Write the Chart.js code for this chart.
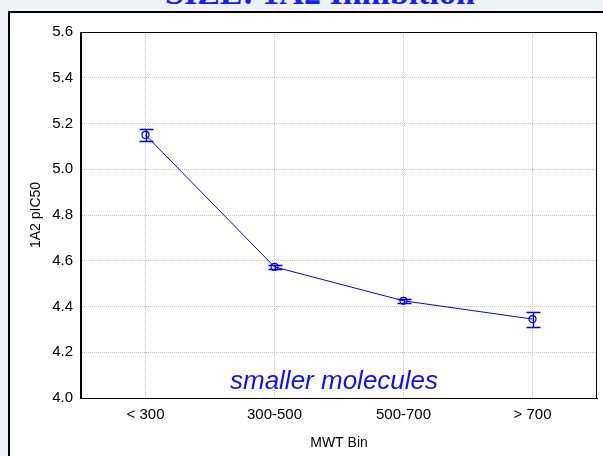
<html><head><meta charset="UTF-8">
<title>Size: 1A2 Inhibition</title>
<style>
* { margin: 0; padding: 0; box-sizing: border-box; }
body { width: 603px; height: 456px; background: #eef2f7; overflow: hidden; position: relative; font-family: 'Liberation Sans', Arial, sans-serif; }
.title { position: absolute; top: -26px; left: 0; width: 640px; text-align: center; color: #1a1aff; font: bold 34px/37px 'Liberation Serif', 'Times New Roman', serif; }
.frame { position: absolute; left: 8px; top: 11px; width: 640px; height: 500px; background: #fff; border-left: 2px solid #000; border-top: 2px solid #000; }
#wrap { position: absolute; left: 0; top: 0; width: 603px; height: 456px; }
</style>
<script src="https://cdn.jsdelivr.net/npm/chart.js"></script>
</head>
<body>
<div class="title">SIZE: 1A2 Inhibition</div>
<div class="frame"></div>
<div id="wrap"><canvas id="chart"></canvas></div>
<script>
const bins = ['< 300', '300-500', '500-700', '> 700'];
const meanPIC50 = [5.150, 4.573, 4.425, 4.345];
const errPIC50 = [0.028, 0.010, 0.008, 0.033];
const yTicks = [4.0, 4.2, 4.4, 4.6, 4.8, 5.0, 5.2, 5.4, 5.6];
const blue = '#0000ff';

const errorBars = {
  id: 'errorBars',
  afterDatasetsDraw(chart) {
    const ctx = chart.ctx;
    const y = chart.scales.y;
    const meta = chart.getDatasetMeta(0);
    ctx.save();
    ctx.setLineDash([]);
    ctx.strokeStyle = blue;
    ctx.lineWidth = 1.3;
    meta.data.forEach((pt, i) => {
      const x = Math.round(pt.x) + 0.5;
      const top = Math.round(y.getPixelForValue(meanPIC50[i] + errPIC50[i])) + 0.5;
      const bot = Math.round(y.getPixelForValue(meanPIC50[i] - errPIC50[i])) + 0.5;
      ctx.beginPath();
      ctx.moveTo(x, top); ctx.lineTo(x, bot);
      ctx.moveTo(x - 7, top); ctx.lineTo(x + 7, top);
      ctx.moveTo(x - 7, bot); ctx.lineTo(x + 7, bot);
      ctx.stroke();
    });
    ctx.restore();
  }
};

const plotBox = {
  id: 'plotBox',
  afterDraw(chart) {
    const a = chart.chartArea;
    const ctx = chart.ctx;
    ctx.save();
    ctx.setLineDash([]);
    ctx.strokeStyle = '#000';
    ctx.lineWidth = 1;
    ctx.strokeRect(Math.round(a.left) - 0.5, Math.round(a.top) + 0.5, Math.round(a.right - a.left), Math.round(a.bottom - a.top));
    ctx.fillStyle = '#1010ff';
    ctx.font = 'italic 26px "Liberation Sans", Arial, sans-serif';
    ctx.textAlign = 'center';
    ctx.textBaseline = 'alphabetic';
    ctx.fillText('smaller molecules', (a.left + a.right) / 2 - 5, a.bottom - 9);
    ctx.restore();
  }
};

new Chart(document.getElementById('chart'), {
  type: 'line',
  data: {
    labels: bins,
    datasets: [{
      data: meanPIC50,
      borderColor: blue,
      borderWidth: 1,
      backgroundColor: 'rgba(255,255,255,0)',
      pointStyle: 'circle',
      pointRadius: 3.5,
      pointBorderColor: blue,
      pointBorderWidth: 1.2,
      pointBackgroundColor: 'rgba(255,255,255,0)',
      tension: 0,
      fill: false
    }]
  },
  options: {
    responsive: true,
    maintainAspectRatio: false,
    animation: false,
    events: [],
    layout: { padding: { top: 32, right: 6, left: 24, bottom: 0 } },
    plugins: { legend: { display: false }, tooltip: { enabled: false } },
    scales: {
      x: {
        offset: true,
        afterFit(s) { s.height = 58; },
        grid: { offset: false, color: '#c4c4c4', drawTicks: false },
        border: { color: '#000', width: 1, dash: [1, 1] },
        ticks: { color: '#000', font: { size: 15, family: "'Liberation Sans', Arial" }, padding: 8 },
        title: { display: true, text: 'MWT Bin', color: '#000', font: { size: 14, family: "'Liberation Sans', Arial" }, padding: { top: 4 } }
      },
      y: {
        min: 4.0,
        max: 5.6,
        afterFit(s) { s.width = 57; },
        afterBuildTicks(s) { s.ticks = yTicks.map(v => ({ value: v })); },
        grid: { color: '#c4c4c4', drawTicks: false },
        border: { color: '#000', width: 1, dash: [1, 1] },
        ticks: { color: '#000', font: { size: 15, family: "'Liberation Sans', Arial" }, padding: 8, callback: v => Number(v).toFixed(1) },
        title: { display: true, text: '1A2 pIC50', color: '#000', font: { size: 14, family: "'Liberation Sans', Arial" }, padding: { bottom: 4 } }
      }
    }
  },
  plugins: [errorBars, plotBox]
});
</script>
</body></html>
